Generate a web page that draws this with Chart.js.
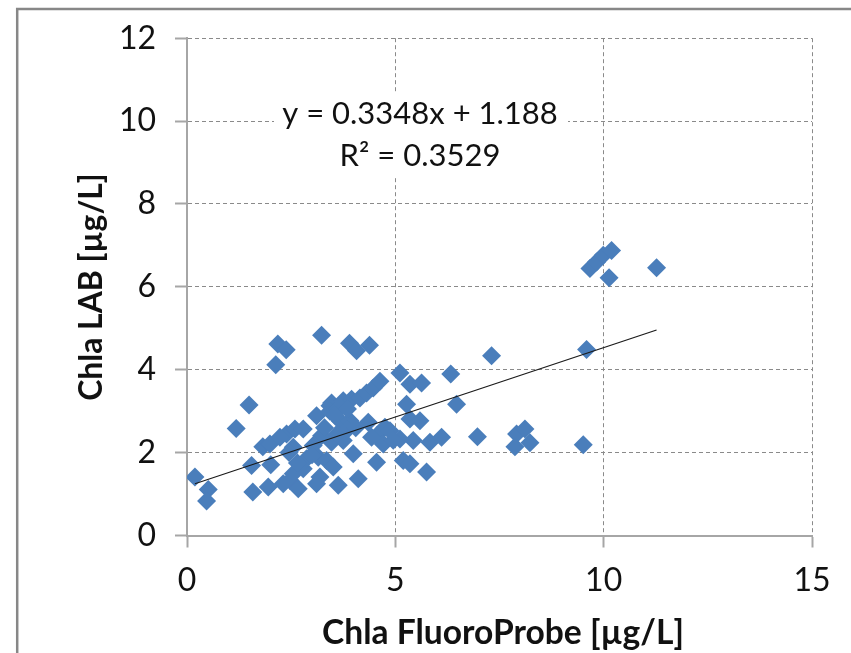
<!DOCTYPE html>
<html><head><meta charset="utf-8">
<script src="https://cdn.jsdelivr.net/npm/chart.js@4"></script>
<style>html,body{margin:0;padding:0;background:#fff;overflow:hidden}</style>
</head><body>
<canvas id="c" width="851" height="653"></canvas>
<script>
// ---- data ----
const fluoroProbe = [0.19,0.51,0.47,1.18,1.49,1.55,1.58,1.95,1.82,1.99,2.01,2.13,2.18,2.38,3.23,3.90,4.07,4.38,2.39,2.59,
  2.23,2.55,2.47,2.31,2.67,2.55,2.79,2.79,3.11,3.43,3.47,3.43,3.63,3.75,3.95,4.15,4.31,4.47,4.63,3.67,
  3.91,4.35,4.75,4.55,4.71,4.43,3.23,3.03,3.47,3.75,3.99,3.15,2.87,3.35,3.51,3.19,3.11,3.63,4.11,4.55,
  4.87,5.11,5.35,5.63,6.33,5.27,5.35,5.59,6.47,5.11,5.43,5.83,6.11,6.97,5.19,5.35,5.75,7.31,9.59,7.91,
  8.11,7.87,8.23,9.51,9.67,9.83,9.99,10.19,10.13,11.27,3.30,3.60,3.85,4.05,3.55,2.65,3.00,4.95,2.45,3.85];
const labChla = [1.41,1.11,0.83,2.58,3.15,1.69,1.05,1.17,2.14,2.21,1.71,4.12,4.62,4.48,4.83,4.64,4.46,4.59,2.45,2.57,
  2.37,2.13,1.33,1.25,1.13,1.49,1.61,2.57,2.89,3.13,3.20,3.00,3.05,3.25,3.29,3.32,3.44,3.56,3.72,2.77,
  2.77,2.73,2.61,2.41,2.21,2.37,2.41,2.17,2.25,2.29,1.97,1.89,1.85,1.81,1.65,1.41,1.25,1.21,1.37,1.77,
  2.53,3.92,3.65,3.68,3.90,3.17,2.81,2.77,3.17,2.33,2.29,2.25,2.37,2.38,1.81,1.73,1.53,4.34,4.49,2.45,
  2.57,2.14,2.24,2.19,6.44,6.60,6.76,6.88,6.22,6.46,2.60,2.45,2.55,2.60,2.90,1.75,1.95,2.30,2.00,3.05];
const trendX = [0.19, 11.27];
const trendY = [1.25, 4.96];
const xTickValues = [0, 5, 10, 15];
const yTickValues = [0, 2, 4, 6, 8, 10, 12];
const xTitle = 'Chla FluoroProbe [µg/L]';
const yTitle = 'Chla LAB [µg/L]';
const equationLines = ['y = 0.3348x + 1.188', 'R² = 0.3529'];

const FONT = 'Lato, "Open Sans", sans-serif';

function fitFont(ctx, text, weight, targetWidth) {
  ctx.font = weight + ' 30px ' + FONT;
  const w = ctx.measureText(text).width;
  const size = 30 * targetWidth / w;
  ctx.font = weight + ' ' + size.toFixed(1) + 'px ' + FONT;
}

const framePlugin = {
  id: 'frame',
  beforeDraw(chart) {
    const ctx = chart.ctx;
    ctx.save();
    ctx.fillStyle = '#fff';
    ctx.fillRect(0, 0, chart.width, chart.height);
    ctx.strokeStyle = '#878787';
    ctx.lineWidth = 2.5;
    ctx.strokeRect(17.2, 9, 1000, 1000);
    ctx.restore();
  },
  afterDatasetsDraw(chart) {
    const ctx = chart.ctx;
    ctx.save();
    ctx.fillStyle = '#fff';
    ctx.fillRect(274, 92, 294, 86);
    ctx.fillStyle = '#111';
    ctx.font = '31px ' + FONT;
    ctx.textAlign = 'center';
    ctx.textBaseline = 'alphabetic';
    ctx.fillText(equationLines[0], 420, 124);
    ctx.fillText(equationLines[1], 420, 166);
    ctx.restore();
  },
  afterDraw(chart) {
    const ctx = chart.ctx;
    ctx.save();
    ctx.fillStyle = '#111';
    ctx.textAlign = 'center';
    ctx.textBaseline = 'middle';
    fitFont(ctx, xTitle, 'bold', 362);
    ctx.fillText(xTitle, 503, 633);
    ctx.translate(92, 287);
    ctx.rotate(-Math.PI / 2);
    fitFont(ctx, yTitle, 'bold', 228);
    ctx.fillText(yTitle, 0, 0);
    ctx.restore();
  }
};

const points = fluoroProbe.map((x, i) => ({x, y: labChla[i]}));
const trend = trendX.map((x, i) => ({x, y: trendY[i]}));

new Chart(document.getElementById('c'), {
  type: 'scatter',
  data: {
    datasets: [
      {
        label: 'Chla',
        data: points,
        pointStyle: 'rectRot',
        pointRadius: 9.5,
        pointHoverRadius: 9.5,
        backgroundColor: '#4A7EBB',
        borderColor: '#4A7EBB',
        borderWidth: 0,
        order: 2
      },
      {
        type: 'line',
        label: 'trend',
        data: trend,
        borderColor: '#1a1a1a',
        borderWidth: 1.2,
        pointRadius: 0,
        fill: false,
        order: 1
      }
    ]
  },
  options: {
    responsive: false,
    animation: false,
    devicePixelRatio: 1,
    layout: { padding: { left: 0, top: 34.5, right: 39, bottom: 0 } },
    plugins: { legend: { display: false }, tooltip: { enabled: false } },
    scales: {
      x: {
        type: 'linear', min: 0, max: 15,
        afterBuildTicks(s) { s.ticks = xTickValues.map(v => ({value: v})); },
        afterFit(s) { s.height = 117.5; },
        ticks: { font: { family: FONT, size: 32 }, color: '#111', padding: 14, maxRotation: 0 },
        grid: { color: '#8a8a8a', lineWidth: 1, tickLength: 12, tickColor: '#a6a6a6', tickWidth: 2, tickBorderDash: [] },
        border: { display: true, color: '#a6a6a6', width: 2, dash: [4, 3] }
      },
      y: {
        type: 'linear', min: 0, max: 12,
        afterBuildTicks(s) { s.ticks = yTickValues.map(v => ({value: v})); },
        afterFit(s) { s.width = 187; },
        ticks: { font: { family: FONT, size: 32 }, color: '#111', padding: 19 },
        grid: { color: '#8a8a8a', lineWidth: 1, tickLength: 12, tickColor: '#a6a6a6', tickWidth: 2, tickBorderDash: [] },
        border: { display: true, color: '#a6a6a6', width: 2, dash: [4, 3] }
      }
    }
  },
  plugins: [framePlugin]
});
</script>
</body></html>
